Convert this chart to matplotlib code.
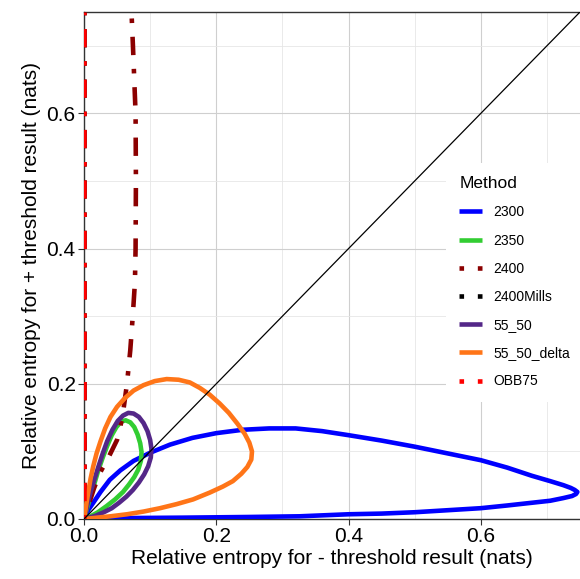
import matplotlib
matplotlib.use("Agg")
import matplotlib.pyplot as plt
from matplotlib.ticker import MultipleLocator

plt.rcParams['font.family'] = ['Liberation Sans', 'DejaVu Sans']

methods = ["2300", "2350", "2400", "2400Mills", "55_50", "55_50_delta", "OBB75"]
colors = ["#0000ff", "#32cd32", "#8b0000", "#000000", "#542788", "#ff7518", "#ff0000"]
styles = ["solid", "solid", "dotdash", "dotdash", "solid", "solid", "dotdash"]

x_2300 = [0, 0.003, 0.007, 0.014, 0.025, 0.039, 0.055, 0.075, 0.1, 0.13, 0.164, 0.2, 0.24, 0.28,
          0.32, 0.36, 0.4, 0.45, 0.5, 0.55, 0.6, 0.64, 0.677, 0.705, 0.725, 0.736, 0.742, 0.746,
          0.744, 0.738, 0.725, 0.705, 0.677, 0.64, 0.6, 0.55, 0.5, 0.45, 0.4, 0.326, 0.25, 0.15,
          0.08, 0.03, 0]
y_2300 = [0, 0.007, 0.014, 0.024, 0.040, 0.058, 0.072, 0.086, 0.098, 0.110, 0.120, 0.127, 0.132, 0.134,
          0.134, 0.130, 0.124, 0.116, 0.107, 0.097, 0.087, 0.076, 0.064, 0.056, 0.050, 0.046, 0.043, 0.040,
          0.037, 0.034, 0.031, 0.027, 0.024, 0.020, 0.016, 0.013, 0.010, 0.008, 0.007, 0.004, 0.003, 0.002,
          0.0015, 0.001, 0]

x_2350 = [0, 0.004, 0.009, 0.015, 0.021, 0.028, 0.035, 0.042, 0.049, 0.056, 0.063, 0.07, 0.076, 0.081,
          0.085, 0.087, 0.086, 0.082, 0.076, 0.068, 0.059, 0.047, 0.034, 0.021, 0.01, 0]
y_2350 = [0, 0.014, 0.03, 0.05, 0.07, 0.09, 0.108, 0.124, 0.136, 0.144, 0.146, 0.143, 0.136, 0.125,
          0.112, 0.099, 0.086, 0.073, 0.062, 0.051, 0.04, 0.029, 0.019, 0.01, 0.004, 0]

x_2400 = [0, 0.006, 0.015, 0.024, 0.038, 0.05, 0.058, 0.065, 0.07, 0.074, 0.077, 0.078, 0.0785,
          0.078, 0.076, 0.074, 0.0718]
y_2400 = [0, 0.018, 0.045, 0.068, 0.093, 0.117, 0.15, 0.2, 0.25, 0.304, 0.35, 0.4, 0.5,
          0.6, 0.65, 0.7, 0.75]

x_2400Mills = [0, 0, 0, 0]
y_2400Mills = [0, 0.25, 0.5, 0.75]

x_55_50 = [0, 0.003, 0.006, 0.01, 0.015, 0.021, 0.028, 0.035, 0.043, 0.051, 0.059, 0.067, 0.075, 0.083,
           0.09, 0.096, 0.1, 0.102, 0.101, 0.097, 0.091, 0.083, 0.074, 0.064, 0.053, 0.042, 0.03, 0.018,
           0.008, 0]
y_55_50 = [0, 0.012, 0.025, 0.04, 0.056, 0.075, 0.096, 0.115, 0.132, 0.145, 0.153, 0.157, 0.156, 0.151,
           0.142, 0.13, 0.117, 0.104, 0.091, 0.078, 0.066, 0.054, 0.043, 0.033, 0.024, 0.016, 0.01, 0.005,
           0.002, 0]

x_55_50_delta = [0, 0.002, 0.004, 0.007, 0.01, 0.014, 0.019, 0.025, 0.032, 0.04, 0.05, 0.062, 0.075,
                 0.09, 0.107, 0.125, 0.143, 0.16, 0.175, 0.19, 0.205, 0.219, 0.232, 0.243, 0.25, 0.254,
                 0.253, 0.247, 0.238, 0.225, 0.21, 0.19, 0.165, 0.14, 0.115, 0.09, 0.065, 0.04, 0.02, 0]
y_55_50_delta = [0, 0.012, 0.025, 0.043, 0.06, 0.078, 0.097, 0.115, 0.134, 0.151, 0.166, 0.179, 0.19,
                 0.198, 0.204, 0.207, 0.206, 0.202, 0.194, 0.184, 0.171, 0.157, 0.141, 0.126, 0.113, 0.1,
                 0.088, 0.077, 0.067, 0.056, 0.048, 0.039, 0.029, 0.022, 0.016, 0.011, 0.007, 0.004, 0.002, 0]

x_OBB75 = [0, 0, 0, 0]
y_OBB75 = [0, 0.25, 0.5, 0.75]

series = {
    "2300": (x_2300, y_2300),
    "2350": (x_2350, y_2350),
    "2400": (x_2400, y_2400),
    "2400Mills": (x_2400Mills, y_2400Mills),
    "55_50": (x_55_50, y_55_50),
    "55_50_delta": (x_55_50_delta, y_55_50_delta),
    "OBB75": (x_OBB75, y_OBB75),
}

x_ticks = [0.0, 0.2, 0.4, 0.6]
y_ticks = [0.0, 0.2, 0.4, 0.6]
lim = 0.75

fig = plt.figure(figsize=(5.80, 5.79), dpi=100)
ax = fig.add_axes([84 / 580, 60 / 579, (580 - 84) / 580, (519 - 12) / 579])

lw = 3.3
for name, col, st in zip(methods, colors, styles):
    xs, ys = series[name]
    ls = (0, (1, 3, 4, 3)) if st == "dotdash" else "solid"
    ax.plot(xs, ys, color=col, lw=lw, linestyle=ls, label=name,
            solid_capstyle="butt", dash_capstyle="butt", solid_joinstyle="round", zorder=3)

ax.axline((0, 0), slope=1, color="black", lw=0.9, zorder=4)

ax.set_xlim(0, lim)
ax.set_ylim(0, lim)
ax.set_xticks(x_ticks)
ax.set_yticks(y_ticks)
ax.set_xticklabels([f"{v:.1f}" for v in x_ticks])
ax.set_yticklabels([f"{v:.1f}" for v in y_ticks])
ax.xaxis.set_minor_locator(MultipleLocator(0.1))
ax.yaxis.set_minor_locator(MultipleLocator(0.1))
ax.grid(which="major", color="#cfcfcf", lw=0.8, zorder=0)
ax.grid(which="minor", color="#e6e6e6", lw=0.6, zorder=0)
ax.set_axisbelow(True)
ax.tick_params(which="major", length=4, width=0.8, color="#333333", labelsize=15, labelcolor="black", pad=2)
ax.tick_params(which="minor", length=0)
for s in ["left", "bottom", "top"]:
    ax.spines[s].set_color("#333333")
    ax.spines[s].set_linewidth(1.0)
ax.spines["right"].set_visible(False)

ax.set_xlabel("Relative entropy for - threshold result (nats)", fontsize=15, labelpad=2)
ax.set_ylabel("Relative entropy for + threshold result (nats)", fontsize=15, labelpad=4)

leg = ax.legend(loc="upper left", bbox_to_anchor=(446 / 580, 1 - 163 / 579),
                bbox_transform=fig.transFigure, fontsize=10, title="Method", title_fontsize=12.5,
                frameon=True, facecolor="white", edgecolor="none", framealpha=1, fancybox=False,
                handlelength=1.65, handletextpad=0.8, labelspacing=1.02, borderpad=0.95,
                alignment="left", borderaxespad=0)
leg.set_zorder(5)

fig.savefig("out.png", dpi=100)
